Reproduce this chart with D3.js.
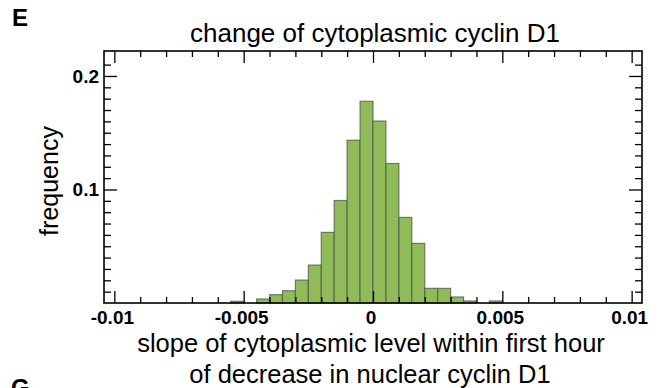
<!DOCTYPE html>
<html>
<head>
<meta charset="utf-8">
<script src="https://cdn.jsdelivr.net/npm/d3@7"></script>
<style>
  body { margin: 0; background: #fff; }
  svg { display: block; font-family: "Liberation Sans", Arial, Helvetica, sans-serif; }
</style>
</head>
<body>
<svg id="chart"></svg>
<script>
const width = 670, height = 388

// histogram bins (left edge) and relative frequencies
const binStarts = [-0.0055, -0.005, -0.0045, -0.004, -0.0035, -0.003, -0.0025, -0.002, -0.0015, -0.001,
                   -0.0005, 0, 0.0005, 0.001, 0.0015, 0.002, 0.0025, 0.003, 0.0035, 0.004, 0.0045]
const freqs = [0.0015, 0, 0.0035, 0.0073, 0.0108, 0.0202, 0.0334, 0.0622, 0.0903, 0.1434,
               0.1777, 0.1603, 0.1229, 0.0754, 0.0525, 0.0129, 0.0129, 0.0053, 0.0018, 0, 0.0018]
const binWidth = 0.0005

const xMajor = [-0.01, -0.005, 0, 0.005, 0.01]
const xMajorLabels = ["-0.01", "-0.005", "0", "0.005", "0.01"]
const xMinor = [-0.009, -0.008, -0.007, -0.006, -0.004, -0.003, -0.002, -0.001,
                0.001, 0.002, 0.003, 0.004, 0.006, 0.007, 0.008, 0.009]
const yMajor = [0.1, 0.2]
const yMajorLabels = ["0.1", "0.2"]
const yMinor = [0.01, 0.02, 0.03, 0.04, 0.05, 0.06, 0.07, 0.08, 0.09,
                0.11, 0.12, 0.13, 0.14, 0.15, 0.16, 0.17, 0.18, 0.19, 0.21]

const margin = { left: 104, right: 28, top: 51, bottom: 85 }
const pw = width - margin.left - margin.right
const ph = height - margin.top - margin.bottom

const svg = d3.select("#chart").attr("width", width).attr("height", height)

const x = d3.scaleLinear().domain([-0.0104, 0.0104]).range([0, pw])
const y = d3.scaleLinear().domain([0, 0.222]).range([ph, 0])

const g = svg.append("g").attr("transform", `translate(${margin.left},${margin.top})`)

// bars
g.append("g")
  .selectAll("rect")
  .data(binStarts.map((b, i) => ({ x0: b, v: freqs[i] })).filter(d => d.v > 0))
  .join("rect")
  .attr("x", d => x(d.x0))
  .attr("y", d => y(d.v))
  .attr("width", d => x(d.x0 + binWidth) - x(d.x0))
  .attr("height", d => y(0) - y(d.v))
  .attr("fill", "#8fbb58")
  .attr("stroke", "#4f5a46")
  .attr("stroke-opacity", 0.75)
  .attr("stroke-width", 1.2)

// inward ticks on all four sides
function ticks(axisFn, scale, vals, len, tr) {
  const a = g.append("g").attr("transform", tr)
    .call(axisFn(scale).tickValues(vals).tickSize(len).tickFormat(""))
  a.select(".domain").remove()
  a.selectAll("line").attr("stroke", "#000").attr("stroke-width", 1.3)
  return a
}
ticks(d3.axisBottom, x, xMajor, -12, `translate(0,${ph})`)
ticks(d3.axisBottom, x, xMinor, -6, `translate(0,${ph})`)
ticks(d3.axisTop, x, xMajor, -12, "translate(0,0)")
ticks(d3.axisTop, x, xMinor, -6, "translate(0,0)")
ticks(d3.axisLeft, y, yMajor, -13, "translate(0,0)")
ticks(d3.axisLeft, y, yMinor, -7, "translate(0,0)")
ticks(d3.axisRight, y, yMajor, -13, `translate(${pw},0)`)
ticks(d3.axisRight, y, yMinor, -7, `translate(${pw},0)`)

// frame
g.append("rect")
  .attr("width", pw).attr("height", ph)
  .attr("fill", "none").attr("stroke", "#000").attr("stroke-width", 1.6)

// tick labels
g.append("g").selectAll("text")
  .data(xMajor)
  .join("text")
  .attr("x", d => x(d) - 2)
  .attr("y", ph + 21)
  .attr("text-anchor", "middle")
  .attr("font-size", 19)
  .attr("font-weight", "bold")
  .text((d, i) => xMajorLabels[i])

g.append("g").selectAll("text")
  .data(yMajor)
  .join("text")
  .attr("x", -5)
  .attr("y", d => y(d) + 7)
  .attr("text-anchor", "end")
  .attr("font-size", 19)
  .attr("font-weight", "bold")
  .text((d, i) => yMajorLabels[i])

// titles
svg.append("text")
  .attr("x", margin.left + pw / 2 + 2)
  .attr("y", 42)
  .attr("text-anchor", "middle")
  .attr("font-size", 26)
  .text("change of cytoplasmic cyclin D1")

svg.append("text")
  .attr("x", margin.left + pw / 2 - 2)
  .attr("y", 352)
  .attr("text-anchor", "middle")
  .attr("font-size", 25.5)
  .text("slope of cytoplasmic level within first hour")

svg.append("text")
  .attr("x", margin.left + pw / 2 - 3)
  .attr("y", 383)
  .attr("text-anchor", "middle")
  .attr("font-size", 25.5)
  .text("of decrease in nuclear cyclin D1")

svg.append("text")
  .attr("transform", `translate(58,181) rotate(-90)`)
  .attr("text-anchor", "middle")
  .attr("font-size", 25)
  .text("frequency")

// panel letters
svg.append("text")
  .attr("x", 12).attr("y", 26)
  .attr("font-size", 24).attr("font-weight", "bold")
  .text("E")

svg.append("text")
  .attr("x", 11).attr("y", 396)
  .attr("font-size", 24).attr("font-weight", "bold")
  .text("G")
</script>
</body>
</html>
